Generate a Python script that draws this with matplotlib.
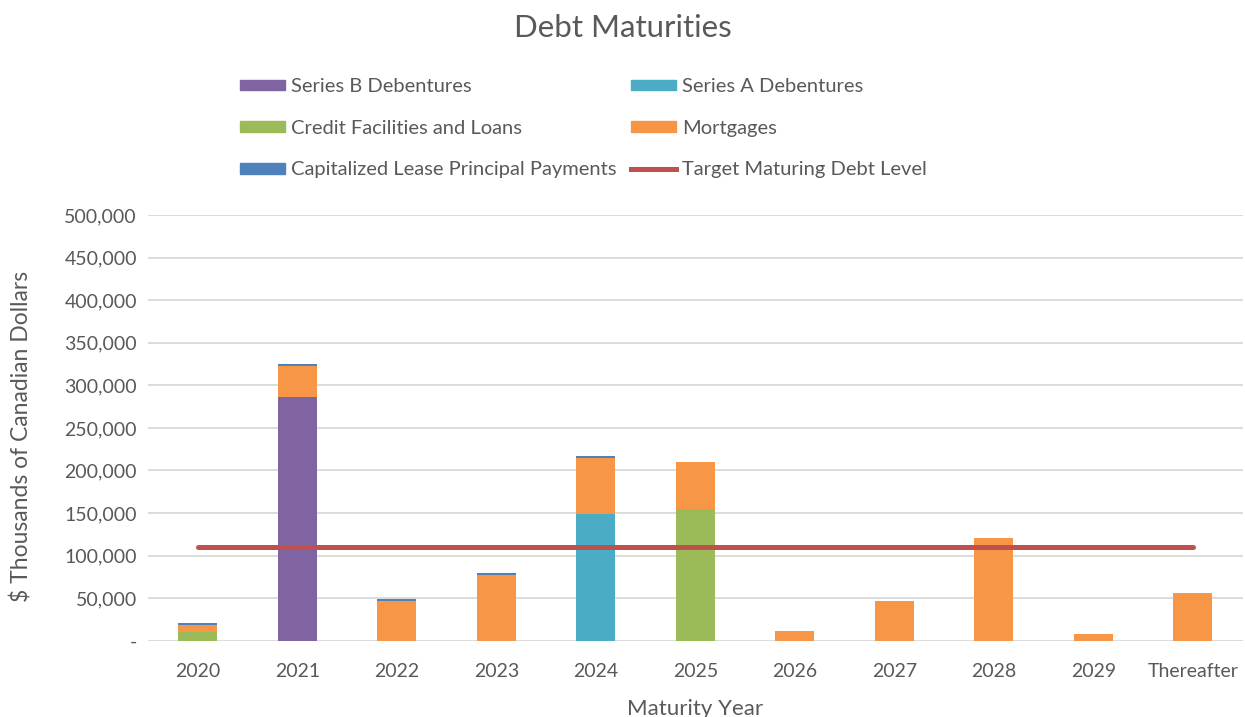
import matplotlib.pyplot as plt
import numpy as np
from matplotlib.ticker import FuncFormatter
from matplotlib.patches import Patch
from matplotlib.lines import Line2D

years = ['2020', '2021', '2022', '2023', '2024', '2025', '2026', '2027', '2028', '2029', 'Thereafter']
series_b = [0, 286000, 0, 0, 0, 0, 0, 0, 0, 0, 0]
series_a = [0, 0, 0, 0, 149000, 0, 0, 0, 0, 0, 0]
credit = [10000, 0, 0, 0, 0, 155000, 0, 0, 0, 0, 0]
mortgages = [8500, 37000, 47000, 77000, 65500, 55000, 11700, 46500, 121000, 7400, 55500]
lease = [2000, 2500, 2000, 2000, 2000, 0, 0, 0, 0, 0, 0]
target = [110000, 110000, 110000, 110000, 110000, 110000, 110000, 110000, 110000, 110000, 110000]

plt.rcParams['font.family'] = ['Lato', 'DejaVu Sans']
gray = '#595959'

fig = plt.figure(figsize=(12.45, 7.17), dpi=100)
ax = fig.add_axes([0.119, 0.1064, 0.879, 0.5936])

x = np.arange(len(years))
w = 0.39
series = [
    (series_b, '#8064A2', 'Series B Debentures'),
    (series_a, '#4BACC6', 'Series A Debentures'),
    (credit, '#9BBB59', 'Credit Facilities and Loans'),
    (mortgages, '#F79646', 'Mortgages'),
    (lease, '#4F81BD', 'Capitalized Lease Principal Payments'),
]
bottom = np.zeros(len(years))
for vals, col, lab in series:
    ax.bar(x, vals, w, bottom=bottom, color=col, zorder=2)
    bottom += np.array(vals)

ax.plot(x, target, color='#C0504D', lw=3.6, solid_capstyle='round', zorder=3)

ax.set_xlim(-0.5, len(years) - 0.5)
ax.set_ylim(0, 500000)
ax.set_yticks(np.arange(0, 500001, 50000))
ax.yaxis.set_major_formatter(FuncFormatter(lambda v, p: '-' if v == 0 else f'{int(v):,}'))
ax.set_xticks(x)
ax.set_xticklabels(years)
ax.grid(axis='y', color='#D9D9D9', lw=1.3, zorder=0)
ax.set_axisbelow(True)
for s in ax.spines.values():
    s.set_visible(False)
ax.tick_params(length=0, labelsize=14, colors=gray)
ax.tick_params(axis='x', pad=16)
ax.tick_params(axis='y', pad=8)

ax.set_ylabel('$ Thousands of Canadian Dollars', fontsize=16.5, color=gray)
ax.yaxis.set_label_coords(-0.106, 0.48)
ax.set_xlabel('Maturity Year', fontsize=16, color=gray, labelpad=14)

fig.text(0.5, 1 - 28 / 717, 'Debt Maturities', fontsize=22.5, color=gray, ha='center', va='center')

h = {lab: Patch(color=col) for _, col, lab in series}
h['Target Maturing Debt Level'] = Line2D([], [], color='#C0504D', lw=3.6)
order = ['Series B Debentures', 'Credit Facilities and Loans', 'Capitalized Lease Principal Payments',
         'Series A Debentures', 'Mortgages', 'Target Maturing Debt Level']
leg = fig.legend([h[k] for k in order], order, ncol=2, loc='upper left',
                 bbox_to_anchor=(0.1845, 0.905), frameon=False, fontsize=14.5,
                 handlelength=2.25, handleheight=0.45, handletextpad=0.3,
                 columnspacing=0.7, labelspacing=1.22, borderpad=0)
for t in leg.get_texts():
    t.set_color(gray)

fig.savefig('out.png', dpi=100)
